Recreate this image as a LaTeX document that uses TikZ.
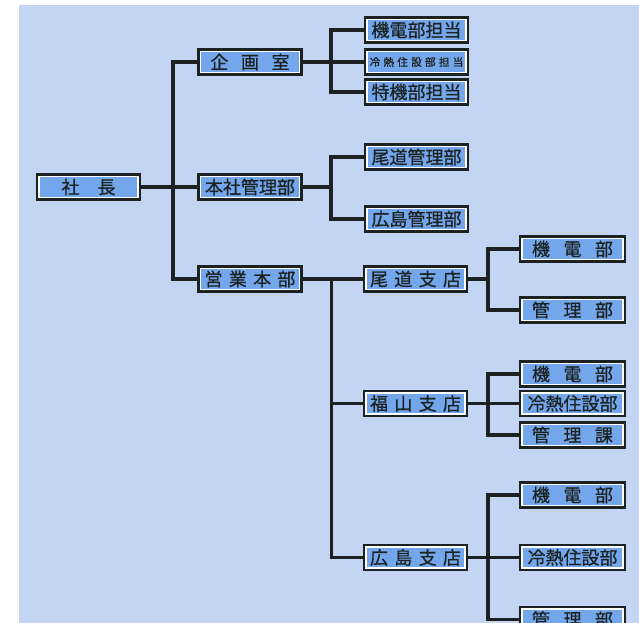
\documentclass[tikz,border=0pt]{standalone}
\usepackage{fontspec}
\newfontfamily\jp[FakeBold=0.7]{Noto Sans CJK JP}
\usepackage{tikz}
\usetikzlibrary{positioning}
\definecolor{paper}{HTML}{C3D5F3}
\definecolor{boxblue}{HTML}{74A6EB}
\definecolor{ink}{HTML}{1C2221}

\begin{document}
\begin{tikzpicture}[x=0.75pt, y=-0.75pt,
  unit/.style={draw=ink, line width=1.9pt, fill=white, minimum width=77.5pt,
               minimum height=18.5pt, inner sep=0pt, text=ink,
               font=\jp\fontsize{13.5}{13.5}\selectfont,
               path picture={\fill[boxblue]
                 ([shift={(2.1pt,2.1pt)}]path picture bounding box.south west) rectangle
                 ([shift={(-2.1pt,-2.1pt)}]path picture bounding box.north east);}},
  wide/.style={unit, minimum width=79pt},
  tiny/.style={font=\jp\fontsize{8}{8}\selectfont},
  link/.style={draw=ink, line width=2.3pt}
]
\useasboundingbox (0,0) rectangle (639,623);
\clip (0,0) rectangle (639,623);
\fill[paper] (19,5) rectangle (639,623);

\node[unit] (shacho) at (88.5,187) {社\hspace{1em}長};

\node[unit] (kikaku) at (250,62) {企\hspace{.7em}画\hspace{.7em}室};
\node[unit] (honsha) at (250,187) {本社管理部};
\node[unit] (eigyo) at (250,279) {営\hspace{.35em}業\hspace{.35em}本\hspace{.35em}部};

\node[unit] (kidentan) at (416.5,30) {機電部担当};
\node[unit, tiny] (reinetan) at (416.5,62) {冷\hspace{.3em}熱\hspace{.3em}住\hspace{.3em}設\hspace{.3em}部\hspace{.3em}担\hspace{.3em}当};
\node[unit] (tokkitan) at (416.5,92) {特機部担当};

\node[unit] (onokan) at (416.5,157) {尾道管理部};
\node[unit] (hirokan) at (416.5,219) {広島管理部};

\node[unit] (onoshi) at (415.5,279) {尾\hspace{.35em}道\hspace{.35em}支\hspace{.35em}店};
\node[unit] (fukushi) at (415.5,403.5) {福\hspace{.35em}山\hspace{.35em}支\hspace{.35em}店};
\node[unit] (hiroshi) at (415.5,557.5) {広\hspace{.35em}島\hspace{.35em}支\hspace{.35em}店};

\node[wide] (onokiden) at (572.5,249) {機\hspace{.75em}電\hspace{.75em}部};
\node[wide] (onokanri) at (572.5,310) {管\hspace{.75em}理\hspace{.75em}部};
\node[wide] (fukukiden) at (572.5,374) {機\hspace{.75em}電\hspace{.75em}部};
\node[wide] (fukurei) at (572.5,403.5) {冷熱住設部};
\node[wide] (fukukanka) at (572.5,435) {管\hspace{.75em}理\hspace{.75em}課};
\node[wide] (hirokiden) at (572.5,495) {機\hspace{.75em}電\hspace{.75em}部};
\node[wide] (hirorei) at (572.5,557.5) {冷熱住設部};
\node[wide] (hirokanri) at (572.5,619.5) {管\hspace{.75em}理\hspace{.75em}部};

\coordinate (top) at (173,187);
\coordinate (kikakuj) at (331,62);
\coordinate (honshaj) at (331,187);
\coordinate (eigyoj) at (331.5,279);
\coordinate (onoj) at (488,279);
\coordinate (fukuj) at (488,403.5);
\coordinate (hiroj) at (488,557.5);

\draw[link] (shacho) -- (honsha);
\draw[link] (top) |- (kikaku);
\draw[link] (top) |- (eigyo);

\draw[link] (kikaku) -- (reinetan);
\draw[link] (kikakuj) |- (kidentan);
\draw[link] (kikakuj) |- (tokkitan);

\draw[link] (honsha) -- (honshaj);
\draw[link] (honshaj) |- (onokan);
\draw[link] (honshaj) |- (hirokan);

\draw[link] (eigyo) -- (onoshi);
\draw[link] (eigyoj) |- (fukushi);
\draw[link] (eigyoj) |- (hiroshi);

\draw[link] (onoshi) -- (onoj);
\draw[link] (onoj) |- (onokiden);
\draw[link] (onoj) |- (onokanri);

\draw[link] (fukushi) -- (fukurei);
\draw[link] (fukuj) |- (fukukiden);
\draw[link] (fukuj) |- (fukukanka);

\draw[link] (hiroshi) -- (hirorei);
\draw[link] (hiroj) |- (hirokiden);
\draw[link] (hiroj) |- (hirokanri);
\end{tikzpicture}
\end{document}
